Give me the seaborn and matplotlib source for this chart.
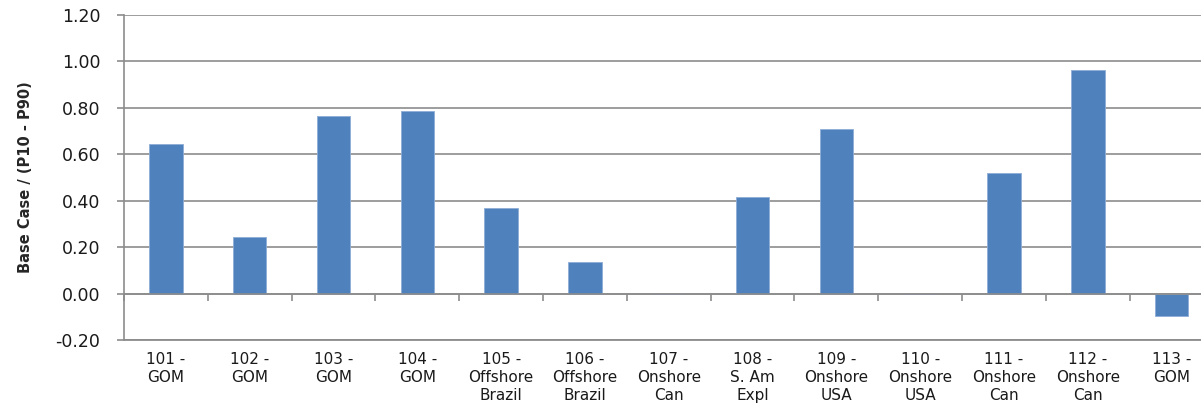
import matplotlib
matplotlib.use("Agg")
import matplotlib.pyplot as plt
import seaborn as sns
import numpy as np
import pandas as pd
from matplotlib.ticker import FixedLocator, FixedFormatter

# Project labels (multi-line category names)
projects = [
    "101 -\nGOM", "102 -\nGOM", "103 -\nGOM", "104 -\nGOM",
    "105 -\nOffshore\nBrazil", "106 -\nOffshore\nBrazil", "107 -\nOnshore\nCan",
    "108 -\nS. Am\nExpl", "109 -\nOnshore\nUSA", "110 -\nOnshore\nUSA",
    "111 -\nOnshore\nCan", "112 -\nOnshore\nCan", "113 -\nGOM",
]
# Ratio of base case to P10-P90 range
ratio = [0.645, 0.245, 0.765, 0.785, 0.368, 0.138, 0.0,
         0.414, 0.710, 0.0, 0.520, 0.965, -0.095]
y_ticks = [-0.20, 0.00, 0.20, 0.40, 0.60, 0.80, 1.00, 1.20]

df = pd.DataFrame({"project": projects, "ratio": ratio})

sns.set_style("white")
plt.rcParams["font.family"] = ["DejaVu Sans"]

GRID = "#8C8C8C"

fig = plt.figure(figsize=(12.01, 4.04), dpi=100)
ax = fig.add_axes([124 / 1201, 64 / 404, 1089.5 / 1201, 325 / 404])

sns.barplot(data=df, x="project", y="ratio", color="#4F81BD", width=0.4,
            edgecolor="#8EACD6", linewidth=0.6, saturation=1, ax=ax, zorder=2)

ax.set_xlim(-0.5, len(projects) - 0.5)
ax.set_ylim(-0.2, 1.2)
ax.yaxis.set_major_locator(FixedLocator(y_ticks))
ax.yaxis.set_major_formatter(FixedFormatter([f"{t:.2f}" for t in y_ticks]))
ax.grid(axis="y", color=GRID, linewidth=1.2, zorder=0)
ax.grid(axis="x", visible=False)

# Category axis crosses at zero, tick marks at category boundaries
ax.spines["bottom"].set_position(("data", 0))
ax.spines["bottom"].set_color(GRID)
ax.spines["bottom"].set_linewidth(1.2)
ax.spines["left"].set_color(GRID)
ax.spines["left"].set_linewidth(1.2)
ax.spines["top"].set_visible(False)
ax.spines["right"].set_visible(False)

# Bottom edge of the plot area at the lower limit of the value axis
fig.add_artist(plt.Line2D([124 / 1201, 1.0], [64 / 404, 64 / 404],
                          transform=fig.transFigure, color=GRID, linewidth=1.3))

ax.set_xticks(np.arange(-0.5, len(projects), 1.0), minor=True)
ax.tick_params(axis="x", which="minor", bottom=True, length=5, width=1.2,
               color=GRID, direction="out")
ax.tick_params(axis="x", which="major", bottom=True, length=0, pad=42,
               labelsize=11, labelcolor="#1a1a1a")
ax.tick_params(axis="y", which="major", left=True, length=5, width=1.2,
               color=GRID, direction="out", labelsize=12.5,
               labelcolor="#1a1a1a", pad=12)
for lab in ax.get_xticklabels():
    lab.set_linespacing(1.25)

ax.set_xlabel("")
ax.set_ylabel("Base Case / (P10 - P90)", fontsize=10.5, fontweight="bold",
              labelpad=16)

fig.savefig("out.png", dpi=100)
